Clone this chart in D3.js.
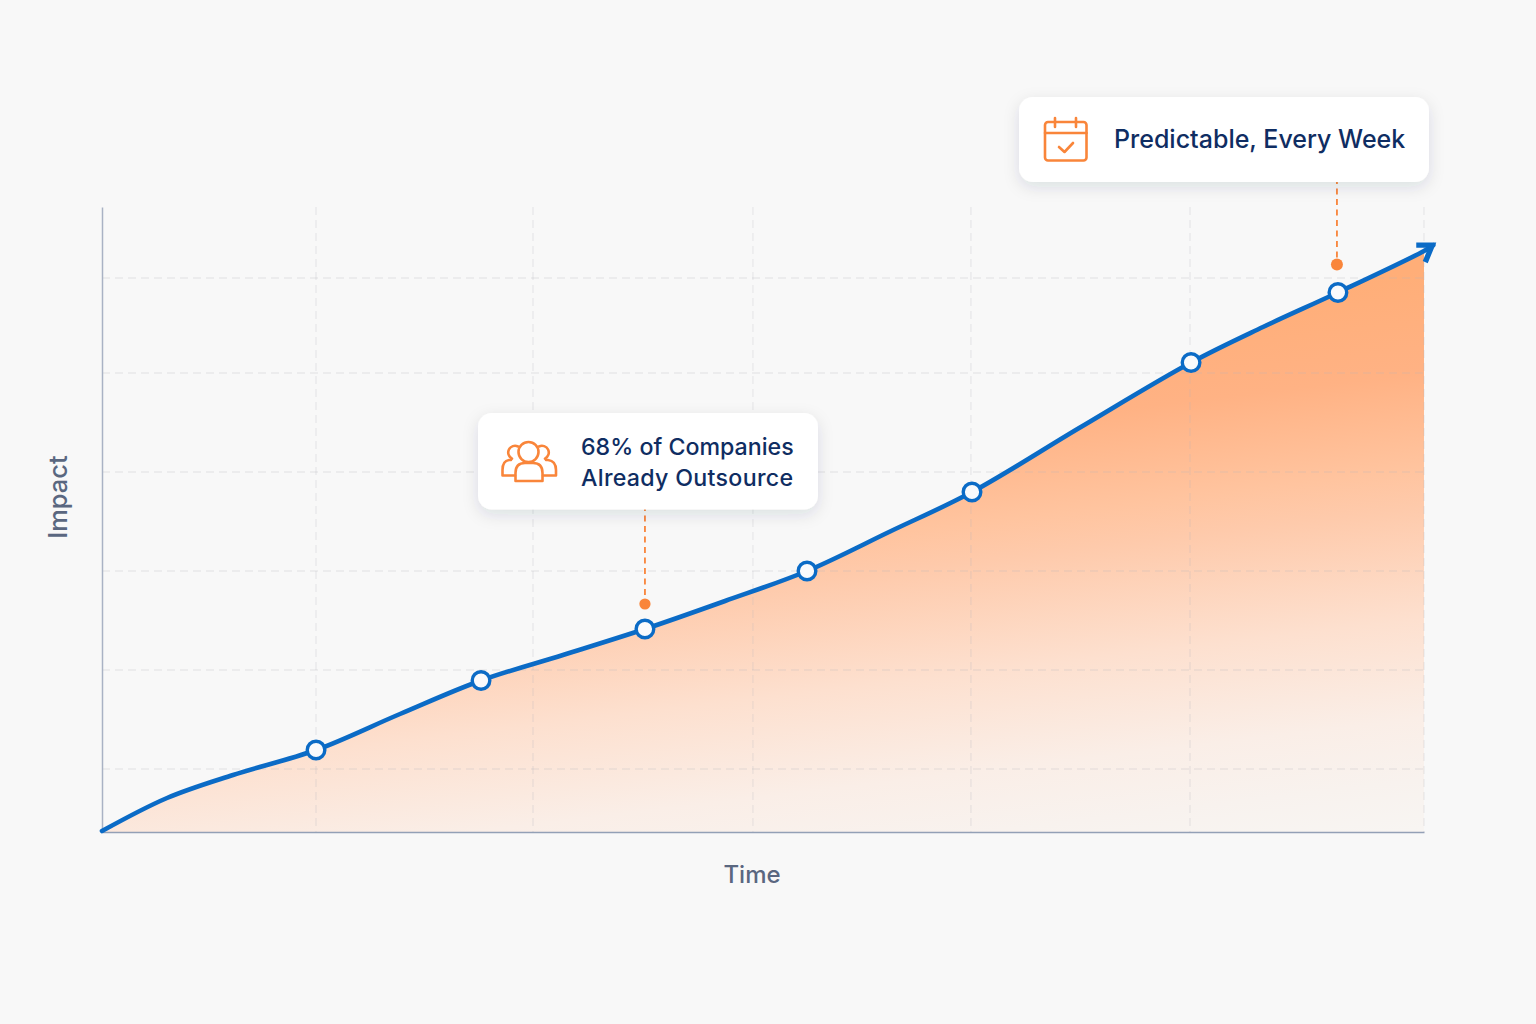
<!DOCTYPE html>
<html><head><meta charset="utf-8">
<script src="https://cdnjs.cloudflare.com/ajax/libs/d3/7.8.5/d3.min.js"></script>
<style>html,body{margin:0;padding:0;background:#f8f8f8}svg{display:block}text{font-family:Inter,sans-serif}</style>
</head><body><svg id="c" width="1536" height="1024"></svg>
<script>
const timeValues   = [0,4.92,9.91,16.19,22.54,28.67,34.87,41.07,47.13,53.33,59.61,65.81,73.98,82.38,87.82,93.49,100];
const impactValues = [0.16,5.44,9.12,13.12,18.88,24.24,28.32,32.48,36.96,41.76,48.08,54.4,64.72,75.12,80.8,86.32,92.96];
const markerTimes   = [16.19,28.67,41.07,53.33,65.81,82.38,93.49];
const markerImpacts = [13.12,24.24,32.48,41.76,54.4,75.12,86.32];
const arrowTip = [100.7,93.9];
const xGrid = [16.19,32.6,49.24,65.73,82.3,100];
const yGrid = [10.08,25.92,41.76,57.6,73.44,88.64];
const xLabel = "Time", yLabel = "Impact";
const callout1 = ["68% of Companies","Already Outsource"];
const callout2 = ["Predictable, Every Week"];

const svg = d3.select("#c");
const x = d3.scaleLinear().domain([0,100]).range([102,1424]);
const y = d3.scaleLinear().domain([0,100]).range([832,207]);
const blue="#0b6bc6", orange="#f9853a", navy="#0f2d62";

const defs = svg.append("defs");
const g = defs.append("linearGradient").attr("id","fill").attr("gradientUnits","userSpaceOnUse")
  .attr("x1",1424).attr("y1",270).attr("x2",1490).attr("y2",821);
[[0,"#ffae78"],[0.184,"#ffb284"],[0.356,"#ffc49f"],[0.424,"#fecaab"],[0.624,"#fde0cf"],[0.801,"#faeee7"],[0.911,"#f8f2ee"],[1,"#f8f5f2"]]
  .forEach(s=>g.append("stop").attr("offset",s[0]).attr("stop-color",s[1]));
const sh = defs.append("filter").attr("id","sh").attr("x","-20%").attr("y","-30%").attr("width","140%").attr("height","170%");
sh.append("feDropShadow").attr("dx",0).attr("dy",5).attr("stdDeviation",8).attr("flood-color","#1a2a4a").attr("flood-opacity",0.12);

// area
const pts = timeValues.map((t,i)=>[t,impactValues[i]]);
const curve = d3.curveCatmullRom.alpha(0.5);
const area = d3.area().x(d=>x(d[0])).y0(y(0)).y1(d=>y(d[1])).curve(curve);
svg.append("path").datum(pts).attr("d",area).attr("fill","url(#fill)");

// grid
const grid = svg.append("g").attr("fill","none").attr("stroke","#b4b4bc").attr("stroke-opacity",0.24).attr("stroke-width",1.3).attr("stroke-dasharray","8 5");
grid.selectAll(".v").data(xGrid).join("line").attr("x1",d=>x(d)).attr("x2",d=>x(d)).attr("y1",y(100)).attr("y2",y(0));
grid.selectAll(".h").data(yGrid).join("line").attr("x1",x(0)).attr("x2",x(100)).attr("y1",d=>y(d)).attr("y2",d=>y(d));

// axes
const axX = d3.axisBottom(x).tickValues([]).tickSize(0);
const axY = d3.axisLeft(y).tickValues([]).tickSize(0);
svg.append("g").attr("transform",`translate(0,${y(0)})`).call(axX).select(".domain").attr("stroke","#93a0b6").attr("stroke-width",1.5);
svg.append("g").attr("transform",`translate(${x(0)},0)`).call(axY).select(".domain").attr("stroke","#a9b2c4").attr("stroke-width",1.5);

// line
const line = d3.line().x(d=>x(d[0])).y(d=>y(d[1])).curve(curve);
svg.append("path").datum(pts.concat([arrowTip])).attr("d",line).attr("fill","none").attr("stroke",blue).attr("stroke-width",4.6).attr("stroke-linecap","round");
const tx=x(arrowTip[0]), ty=y(arrowTip[1]);
svg.append("path").attr("d",`M${tx-17},${ty} L${tx-1},${ty} L${tx-8},${ty+17}`).attr("fill","none").attr("stroke",blue).attr("stroke-width",5.4).attr("stroke-linejoin","miter").attr("stroke-miterlimit",8);

// leaders
function leader(idx,top,dotOff,r){
  const px=x(markerTimes[idx])+(idx===6?-1:0), py=y(markerImpacts[idx]);
  svg.append("line").attr("x1",px).attr("x2",px).attr("y1",top).attr("y2",py-dotOff-6).attr("stroke",orange).attr("stroke-width",1.8).attr("stroke-dasharray","6 4.5");
  svg.append("circle").attr("cx",px).attr("cy",py-dotOff).attr("r",r).attr("fill",orange);
}
leader(2,505,25,5.6);
leader(6,178,28,6);

// markers
svg.selectAll(".m").data(markerTimes).join("circle").attr("cx",d=>x(d)).attr("cy",(d,i)=>y(markerImpacts[i])).attr("r",8.8)
  .attr("fill","#f9fafc").attr("stroke",blue).attr("stroke-width",3.4);

// axis labels
svg.append("text").attr("x",752).attr("y",883).attr("text-anchor","middle").attr("font-size",24).attr("font-weight",500).attr("fill","#5a6780").text(xLabel);
svg.append("text").attr("transform","translate(66.5,497) rotate(-90)").attr("text-anchor","middle").attr("font-size",25.5).attr("font-weight",500).attr("fill","#5a6780").text(yLabel);

// callouts
svg.append("rect").attr("x",478).attr("y",413).attr("width",340).attr("height",96.5).attr("rx",14).attr("fill","#fff").attr("filter","url(#sh)");
svg.append("rect").attr("x",1019).attr("y",97).attr("width",410).attr("height",85).attr("rx",14).attr("fill","#fff").attr("filter","url(#sh)");
const t1=svg.append("text").attr("font-size",23.2).attr("font-weight",500).attr("fill",navy);
callout1.forEach((s,i)=>t1.append("tspan").attr("x",581).attr("y",455+i*31).attr("letter-spacing",i?0.3:0).text(s));
svg.append("text").attr("x",1114).attr("y",148).attr("font-size",25).attr("font-weight",500).attr("fill",navy).text(callout2[0]);

// icons
const ic=svg.append("g").attr("fill","none").attr("stroke",orange).attr("stroke-width",2.6).attr("stroke-linecap","round").attr("stroke-linejoin","round");
ic.append("rect").attr("x",1045).attr("y",122).attr("width",41.5).attr("height",38.5).attr("rx",3);
ic.append("path").attr("d","M1045,133H1086.5M1055,118V127M1076,118V127M1059,147L1064.5,152L1073,143");
ic.append("circle").attr("cx",528.5).attr("cy",452).attr("r",10);
ic.append("path").attr("d","M515.5,481V473Q515.5,463 525,463H533Q542.5,463 542.5,473V481Z");
ic.append("path").attr("d","M518,446.5A6.6,6.6 0 1 0 512,458.6M539,446.5A6.6,6.6 0 1 1 545,458.6");
ic.append("path").attr("d","M511,460H509Q502.5,461 502.5,470V475.5H515M546,460H548Q556,461 556,470V475.5H543");
</script></body></html>
